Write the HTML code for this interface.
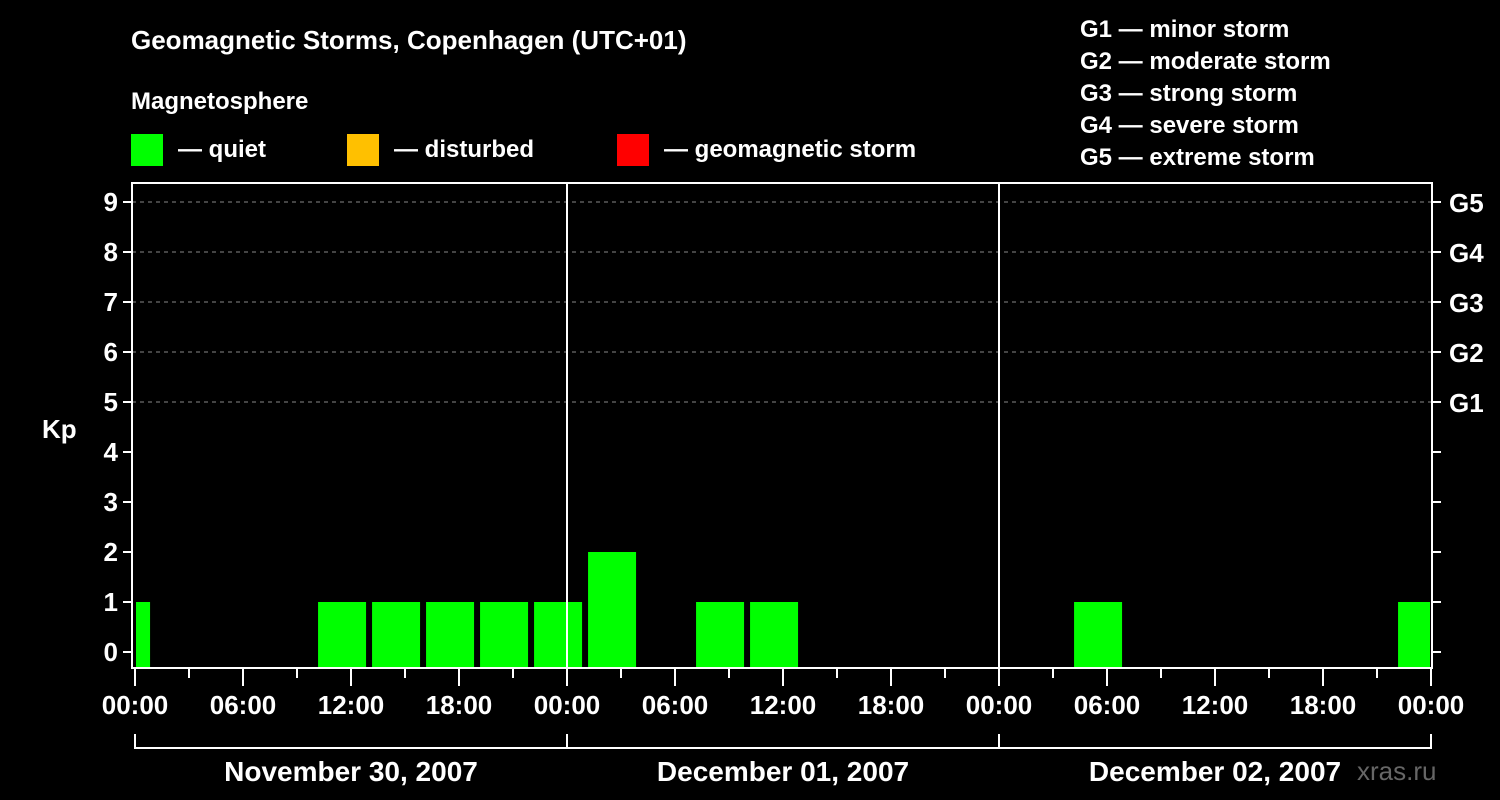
<!DOCTYPE html>
<html><head><meta charset="utf-8"><style>
body{margin:0;background:#000;}
svg{display:block;font-family:"Liberation Sans",Arial,sans-serif;font-weight:bold;}
</style></head><body>
<svg id="c" width="1500" height="800" viewBox="0 0 1500 800">
<rect width="1500" height="800" fill="#000"/>
<text x="131" y="49" fill="#fff" font-size="26">Geomagnetic Storms, Copenhagen (UTC+01)</text>
<text x="131" y="109" fill="#fff" font-size="24">Magnetosphere</text>
<g><rect x="131" y="134" width="32" height="32" fill="#00ff00"/><text x="178" y="157" fill="#fff" font-size="24">— quiet</text></g>
<g><rect x="347" y="134" width="32" height="32" fill="#ffc000"/><text x="394" y="157" fill="#fff" font-size="24">— disturbed</text></g>
<g><rect x="617" y="134" width="32" height="32" fill="#ff0000"/><text x="664" y="157" fill="#fff" font-size="24">— geomagnetic storm</text></g>
<g fill="#fff" font-size="24">
<text x="1080" y="37">G1 — minor storm</text>
<text x="1080" y="69">G2 — moderate storm</text>
<text x="1080" y="101">G3 — strong storm</text>
<text x="1080" y="133">G4 — severe storm</text>
<text x="1080" y="165">G5 — extreme storm</text>
</g>
<text x="42" y="438" fill="#fff" font-size="26">Kp</text>
<text x="1357" y="780" fill="#666" font-size="26" font-weight="normal">xras.ru</text>
<g id="grid"></g><g id="bars"></g><g id="axes"></g>
</svg>
<script>
const kpValues=[1,0,0,0,1,1,1,1,1,2,0,1,1,0,0,0,0,0,1,0,0,0,0,0,1];
const yTicks=[0,1,2,3,4,5,6,7,8,9];
const gLabels=["G1","G2","G3","G4","G5"];
const hourLabels=["00:00","06:00","12:00","18:00"];
const dayLabels=["November 30, 2007","December 01, 2007","December 02, 2007"];
const NS="http://www.w3.org/2000/svg";
const X0=135,PXH=18,Y0=652,PXK=50,BOT=668,TOP=183,LEFT=132,RIGHT=1432,OFF=-1.83;
const xs=h=>X0+h*PXH, ys=k=>Y0-k*PXK;
function mk(t,a,p){const e=document.createElementNS(NS,t);for(const k in a)e.setAttribute(k,a[k]);p.appendChild(e);return e;}
const grid=document.getElementById('grid'),bars=document.getElementById('bars'),axes=document.getElementById('axes');
yTicks.forEach(k=>{
  if(k>=5){const l=mk('line',{x1:LEFT,x2:RIGHT,y1:ys(k),y2:ys(k),stroke:'#888','stroke-dasharray':'4 4','stroke-width':1},grid);
  
  }
  const t=mk('line',{x1:LEFT-9,x2:LEFT,y1:ys(k),y2:ys(k),stroke:'#fff','stroke-width':2},axes);
  const r=mk('line',{x1:RIGHT,x2:RIGHT+9,y1:ys(k),y2:ys(k),stroke:'#fff','stroke-width':2},axes);
  const tx=mk('text',{x:LEFT-14,y:ys(k)+9,fill:'#fff','font-size':26,'text-anchor':'end'},axes);tx.textContent=k;
  
  
});
gLabels.forEach((g,i)=>{const t=mk('text',{x:RIGHT+17,y:ys(5+i)+10,fill:'#fff','font-size':26},axes);t.textContent=g;
  
  });
kpValues.forEach((v,i)=>{
  if(v<=0)return;
  let x1=xs(OFF+i*3),x2=x1+48;x1=Math.max(x1,LEFT+4);x2=Math.min(x2,RIGHT-2);
  const c=v>=5?'#ff0000':(v>=4?'#ffc000':'#00ff00');
  const b=mk('rect',{x:x1,y:ys(v),width:x2-x1,height:BOT-ys(v),fill:c},bars);
  
  
});
// day separators
[1,2].forEach(d=>{const l=mk('line',{x1:xs(d*24),x2:xs(d*24),y1:TOP,y2:BOT,stroke:'#fff','stroke-width':2},axes);
  
  });
const fr=mk('path',{d:`M${LEFT} ${TOP}H${RIGHT}V${BOT}H${LEFT}Z`,fill:'none',stroke:'#fff','stroke-width':2},axes);


for(let h=0;h<=72;h+=3){
  const major=h%6===0;
  mk('line',{x1:xs(h),x2:xs(h),y1:BOT,y2:BOT+(major?18:10),stroke:'#fff','stroke-width':2},axes);
  if(major){const t=mk('text',{x:xs(h),y:714,fill:'#fff','font-size':26,'text-anchor':'middle'},axes);
    t.textContent=hourLabels[(h/6)%4];
    
    }
}
mk('line',{x1:xs(0),x2:xs(72),y1:748,y2:748,stroke:'#fff','stroke-width':2},axes);
for(let d=0;d<=3;d++)mk('line',{x1:xs(d*24),x2:xs(d*24),y1:734,y2:749,stroke:'#fff','stroke-width':2},axes);
dayLabels.forEach((s,i)=>{const t=mk('text',{x:xs(i*24+12),y:781,fill:'#fff','font-size':28,'text-anchor':'middle'},axes);t.textContent=s;
  
  });
</script>
</body></html>
